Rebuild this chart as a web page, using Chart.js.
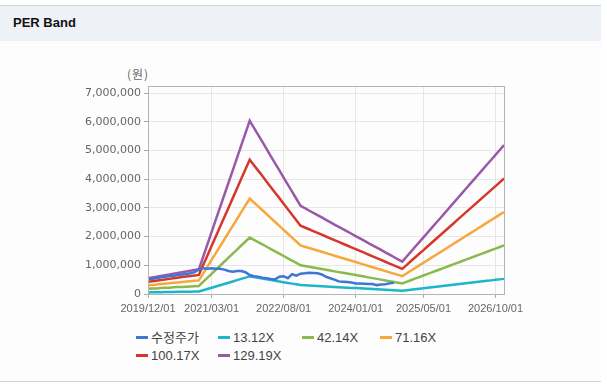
<!DOCTYPE html>
<html>
<head>
<meta charset="utf-8">
<script src="https://cdn.jsdelivr.net/npm/chart.js@4.4.1/dist/chart.umd.min.js"></script>
<style>
  html, body { margin: 0; padding: 0; background: #ffffff; }
  #card { position: absolute; left: 0; top: 5; width: 601px; height: 375px; top: 5px;
          border-top: 1px solid #cfd4db; border-bottom: 1px solid #d4d4d4; background: #fdfdfd; }
  #head { height: 35px; background: #eef2f7; }
  #head span { position: absolute; left: 13px; top: 9px; font: bold 13px "Liberation Sans", Arial, sans-serif; color: #111; }
  #unit { position: absolute; left: 127px; top: 65px; font: 12px "Noto Sans CJK KR", sans-serif; color: #666; letter-spacing: 1px; }
  #wrap { position: absolute; left: 60px; top: 60px; width: 480px; height: 258px; }
  #legend { position: absolute; left: 0; top: 0; }
  .item { position: absolute; font: 13px "Liberation Sans", Arial, "Noto Sans CJK KR", sans-serif; color: #444; white-space: nowrap; line-height: 16px; }
  .item i { display: inline-block; width: 12px; height: 3px; vertical-align: middle; margin-right: 3px; position: relative; top: -1px; }
</style>
</head>
<body>
<div id="card"><div id="head"><span>PER Band</span></div></div>
<div id="unit">(원)</div>
<div id="wrap"><canvas id="perChart"></canvas></div>
<div id="legend"></div>
<script>
var months = [
  '2019/12/01',
  '2020/01/01','2020/02/01','2020/03/01','2020/04/01','2020/05/01','2020/06/01','2020/07/01','2020/08/01','2020/09/01','2020/10/01','2020/11/01','2020/12/01',
  '2021/01/01','2021/02/01','2021/03/01','2021/04/01','2021/05/01','2021/06/01','2021/07/01','2021/08/01','2021/09/01','2021/10/01','2021/11/01','2021/12/01',
  '2022/01/01','2022/02/01','2022/03/01','2022/04/01','2022/05/01','2022/06/01','2022/07/01','2022/08/01','2022/09/01','2022/10/01','2022/11/01','2022/12/01',
  '2023/01/01','2023/02/01','2023/03/01','2023/04/01','2023/05/01','2023/06/01','2023/07/01','2023/08/01','2023/09/01','2023/10/01','2023/11/01','2023/12/01',
  '2024/01/01','2024/02/01','2024/03/01','2024/04/01','2024/05/01','2024/06/01','2024/07/01','2024/08/01','2024/09/01','2024/10/01','2024/11/01','2024/12/01',
  '2025/01/01','2025/02/01','2025/03/01','2025/04/01','2025/05/01','2025/06/01','2025/07/01','2025/08/01','2025/09/01','2025/10/01','2025/11/01','2025/12/01',
  '2026/01/01','2026/02/01','2026/03/01','2026/04/01','2026/05/01','2026/06/01','2026/07/01','2026/08/01','2026/09/01','2026/10/01','2026/11/01','2026/12/01'
];

var xTickLabels = ['2019/12/01', '2021/03/01', '2022/08/01', '2024/01/01', '2025/05/01', '2026/10/01'];
var yTickValues = [0, 1000000, 2000000, 3000000, 4000000, 5000000, 6000000, 7000000];

// 수정주가
var price = [
  520000,530000,550000,580000,600000,620000,640000,660000,680000,700000,720000,760000,850000,
  900000,880000,900000,880000,880000,850000,800000,780000,800000,800000,760000,660000,
  620000,600000,570000,550000,520000,510000,600000,620000,550000,690000,640000,710000,
  720000,740000,730000,720000,680000,600000,550000,500000,440000,430000,420000,400000,
  370000,370000,360000,350000,350000,310000,330000,340000,370000,390000,null,null,
  null,null,null,null,null,null,null,null,null,null,null,null,
  null,null,null,null,null,null,null,null,null,null,null,null
];
var per13 = [
  56000,58000,61000,64000,67000,69000,72000,75000,77000,80000,82000,85000,87000,
  131000,175000,219000,263000,307000,350000,394000,438000,482000,526000,570000,613000,
  588000,563000,538000,513000,487000,463000,438000,412000,387000,362000,337000,312000,
  304000,296000,287000,279000,271000,263000,254000,246000,238000,230000,221000,213000,
  205000,197000,189000,180000,172000,164000,156000,147000,139000,131000,123000,115000,
  132000,149000,167000,184000,201000,218000,235000,252000,269000,286000,304000,321000,
  338000,355000,373000,390000,407000,424000,441000,459000,475000,493000,510000,527000
];
var per42 = [
  179000,188000,196000,206000,214000,222000,232000,240000,248000,256000,264000,272000,281000,
  421000,561000,703000,845000,985000,1125000,1266000,1406000,1548000,1690000,1830000,1970000,
  1889000,1809000,1729000,1647000,1566000,1486000,1406000,1324000,1243000,1163000,1083000,1001000,
  975000,949000,923000,897000,871000,843000,817000,789000,763000,737000,711000,685000,
  659000,633000,607000,579000,553000,527000,501000,473000,447000,421000,395000,369000,
  424000,480000,535000,590000,644000,700000,755000,811000,864000,920000,975000,1031000,
  1086000,1142000,1197000,1253000,1306000,1362000,1417000,1473000,1527000,1582000,1638000,1693000
];
var per71 = [
  303000,317000,330000,347000,361000,375000,391000,405000,419000,432000,446000,460000,474000,
  711000,947000,1187000,1427000,1663000,1900000,2137000,2374000,2614000,2853000,3090000,3327000,
  3189000,3054000,2919000,2782000,2644000,2509000,2374000,2236000,2099000,1964000,1829000,1691000,
  1647000,1603000,1559000,1515000,1471000,1424000,1380000,1333000,1289000,1245000,1201000,1157000,
  1113000,1069000,1025000,978000,934000,890000,846000,799000,755000,711000,667000,622000,
  716000,810000,903000,997000,1088000,1181000,1275000,1369000,1460000,1553000,1647000,1741000,
  1834000,1928000,2021000,2115000,2206000,2300000,2393000,2487000,2578000,2671000,2765000,2859000
];
var per100 = [
  426000,446000,465000,488000,508000,527000,551000,570000,589000,609000,628000,647000,667000,
  1000000,1334000,1671000,2008000,2342000,2675000,3009000,3342000,3679000,4017000,4350000,4683000,
  4490000,4300000,4110000,3916000,3722000,3532000,3342000,3148000,2954000,2764000,2574000,2380000,
  2318000,2256000,2194000,2132000,2070000,2004000,1942000,1876000,1814000,1752000,1690000,1628000,
  1566000,1504000,1442000,1376000,1314000,1252000,1190000,1124000,1062000,1000000,938000,876000,
  1008000,1140000,1272000,1403000,1531000,1663000,1795000,1927000,2055000,2187000,2318000,2450000,
  2582000,2714000,2846000,2978000,3106000,3237000,3369000,3501000,3629000,3761000,3893000,4024000
];
var per129 = [
  550000,575000,600000,630000,655000,680000,710000,735000,760000,785000,810000,835000,860000,
  1290000,1720000,2155000,2590000,3020000,3450000,3880000,4310000,4745000,5180000,5610000,6040000,
  5790000,5545000,5300000,5050000,4800000,4555000,4310000,4060000,3810000,3565000,3320000,3070000,
  2990000,2910000,2830000,2750000,2670000,2585000,2505000,2420000,2340000,2260000,2180000,2100000,
  2020000,1940000,1860000,1775000,1695000,1615000,1535000,1450000,1370000,1290000,1210000,1130000,
  1300000,1470000,1640000,1810000,1975000,2145000,2315000,2485000,2650000,2820000,2990000,3160000,
  3330000,3500000,3670000,3840000,4005000,4175000,4345000,4515000,4680000,4850000,5020000,5190000
];

var seriesNames = ['수정주가', '13.12X', '42.14X', '71.16X', '100.17X', '129.19X'];
var seriesData = [price, per13, per42, per71, per100, per129];
var seriesColors = ['#3d76d3', '#1cb5c9', '#8bb94e', '#f6a83c', '#d5372d', '#9a58a9'];

// legend item positions (left, top) in page pixels
var legendPos = [[136, 330], [218, 330], [302, 330], [380, 330], [136, 348], [218, 348]];

var datasets = seriesNames.map(function (name, i) {
    return {
        label: name,
        data: seriesData[i],
        borderColor: seriesColors[i],
        backgroundColor: seriesColors[i],
        borderWidth: 2.5,
        pointRadius: 0,
        tension: 0,
        fill: false,
        spanGaps: false
    };
});

var plotBox = {
    id: 'plotBox',
    afterDatasetsDraw: function (chart) {
        var a = chart.chartArea, ctx = chart.ctx;
        ctx.save();
        ctx.strokeStyle = '#b4b4b4';
        ctx.lineWidth = 1;
        ctx.strokeRect(Math.round(a.left) + 0.5, Math.round(a.top) + 0.5,
            Math.round(a.right - a.left), Math.round(a.bottom - a.top));
        ctx.restore();
    }
};

new Chart(document.getElementById('perChart'), {
    type: 'line',
    data: { labels: months, datasets: datasets },
    options: {
        responsive: true,
        maintainAspectRatio: false,
        animation: false,
        layout: { padding: { top: 26, right: 36, left: 0, bottom: 0 } },
        plugins: { legend: { display: false }, tooltip: { enabled: false } },
        scales: {
            x: {
                type: 'category',
                offset: false,
                afterBuildTicks: function (scale) {
                    scale.ticks = scale.ticks.filter(function (t) {
                        return xTickLabels.indexOf(months[t.value]) >= 0;
                    });
                },
                afterFit: function (scale) { scale.height = 24; },
                grid: { color: '#e7e7e7', tickLength: 4, tickColor: '#aaaaaa' },
                border: { color: '#aaaaaa' },
                ticks: {
                    autoSkip: false, maxRotation: 0, padding: 4,
                    color: '#666666',
                    font: { family: '"Liberation Sans", Arial, sans-serif', size: 11 }
                }
            },
            y: {
                min: 0,
                max: 7250000,
                afterBuildTicks: function (scale) {
                    scale.ticks = yTickValues.map(function (v) { return { value: v }; });
                },
                afterFit: function (scale) { scale.width = 88; },
                grid: { color: '#e7e7e7', tickLength: 4, tickColor: '#aaaaaa' },
                border: { color: '#aaaaaa' },
                ticks: {
                    padding: 3,
                    color: '#666666',
                    font: { family: '"DejaVu Sans", sans-serif', size: 11 },
                    callback: function (v) { return v.toLocaleString('en-US'); }
                }
            }
        }
    },
    plugins: [plotBox]
});

var legendHtml = '';
seriesNames.forEach(function (name, i) {
    legendHtml += '<div class="item" style="left:' + legendPos[i][0] + 'px;top:' + legendPos[i][1] + 'px">' +
        '<i style="background:' + seriesColors[i] + '"></i>' + name + '</div>';
});
document.getElementById('legend').innerHTML = legendHtml;
</script>
</body>
</html>
